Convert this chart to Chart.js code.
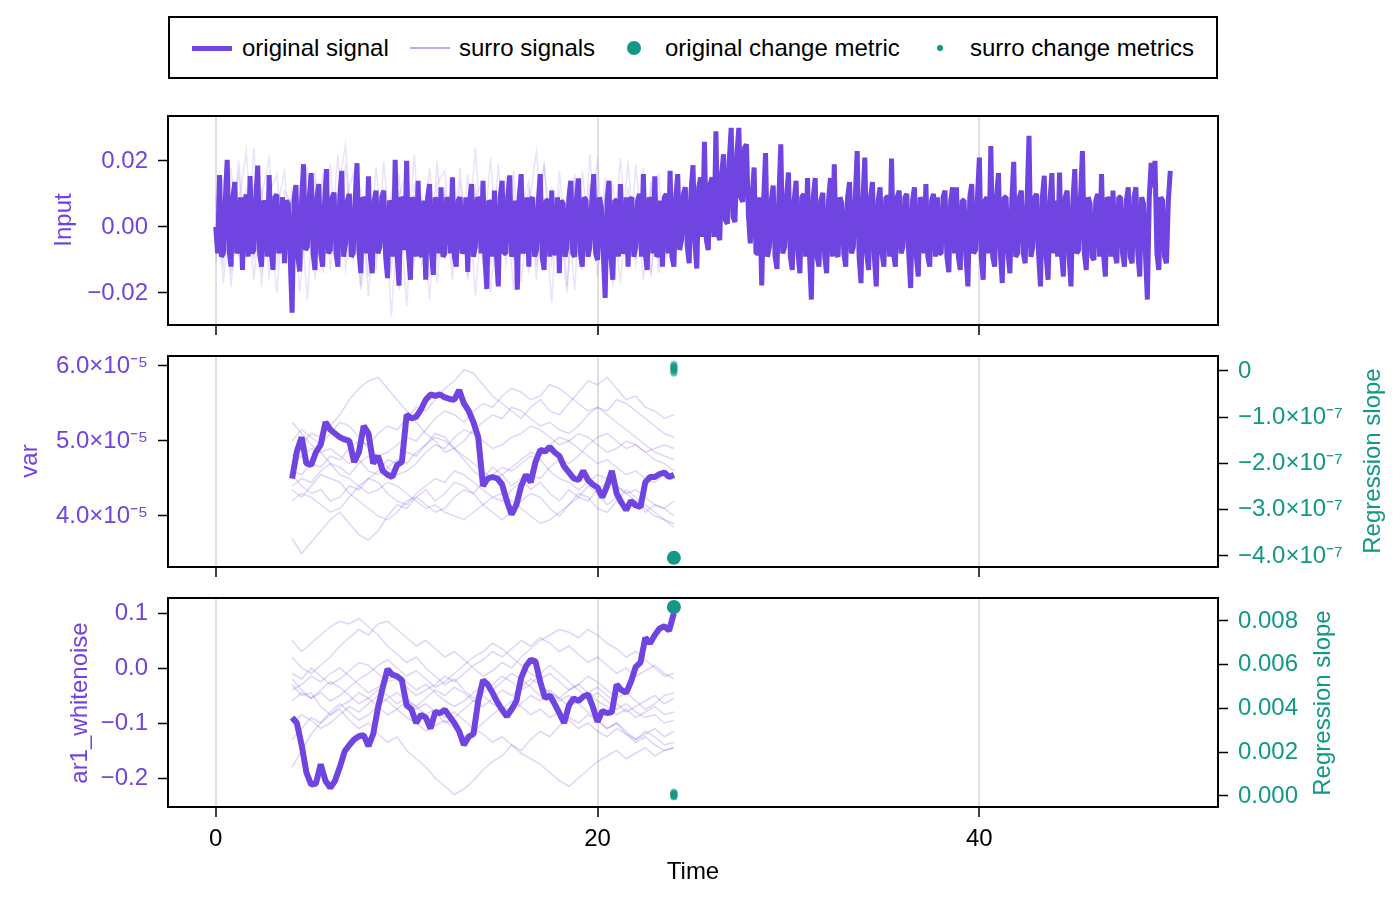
<!DOCTYPE html>
<html>
<head>
<meta charset="utf-8">
<script src="https://cdn.jsdelivr.net/npm/chart.js@4.4.1/dist/chart.umd.min.js"></script>
<style>
  body { margin: 0; background: #fff; width: 1400px; height: 900px; position: relative; overflow: hidden;
         font-family: "Liberation Sans", Arial, sans-serif; }
  canvas { position: absolute; left: 0; }
  #legend { position: absolute; left: 168px; top: 16px; width: 1050px; height: 63px;
            border: 2px solid #000; box-sizing: border-box; }
  #legend span { position: absolute; display: block; }
  #legend .txt { top: 12px; line-height: 36px; font-size: 24px; color: #000; white-space: nowrap; }
</style>
</head>
<body>
<div id="legend">
  <span style="left:22px; top:27.5px; width:40px; height:5px; background:rgb(111,68,224)"></span>
  <span class="txt" style="left:72px">original signal</span>
  <span style="left:240px; top:29px; width:40px; height:2px; background:rgba(111,68,224,0.45)"></span>
  <span class="txt" style="left:289px">surro signals</span>
  <span style="left:457px; top:23px; width:14px; height:14px; border-radius:50%; background:rgb(18,152,132)"></span>
  <span class="txt" style="left:495px">original change metric</span>
  <span style="left:767px; top:27px; width:6px; height:6px; border-radius:50%; background:rgb(18,152,132)"></span>
  <span class="txt" style="left:800px">surro change metrics</span>
</div>
<canvas id="inputChart" width="1400" height="240" style="top:100px"></canvas>
<canvas id="varChart" width="1400" height="242" style="top:340px"></canvas>
<canvas id="ar1Chart" width="1400" height="318" style="top:582px"></canvas>
<script>
// sampling grids
const inputStart = 0, inputStep = 0.1;
const surroInputStep = 0.4;
const windowStart = 4, windowStep = 0.25;
const surroWindowStep = 0.5;
const metricTime = 24;

const timeTicks = [0, 20, 40];

// original input signal, t = 0 .. 50 (one row = 2 time units)
const inputSignal = [
  0.000, -0.008, 0.0157, -0.009, -0.008, 0.008, 0.0203, -0.007, -0.012, 0.009, 0.0136, -0.008, -0.006, 0.009, -0.013, 0.007, 0.0098, -0.009, 0.0154, -0.008,
  -0.007, 0.009, 0.0186, -0.008, -0.012, 0.008, 0.006, -0.009, 0.0157, -0.007, -0.013, 0.009, 0.0098, -0.008, -0.005, 0.009, -0.011, 0.008, 0.007, -0.009,
  -0.026, 0.008, 0.0127, -0.009, -0.0135, 0.008, 0.019, -0.007, -0.006, 0.009, 0.0163, -0.008, -0.013, 0.009, 0.013, -0.008, -0.012, 0.007, 0.0175, -0.008,
  -0.007, 0.009, 0.0104, -0.008, -0.012, 0.009, 0.017, -0.009, -0.005, 0.008, 0.010, -0.009, -0.008, 0.008, 0.0193, -0.007, -0.014, 0.009, 0.008, -0.008,
  0.0153, -0.009, -0.014, 0.008, 0.011, -0.008, -0.006, 0.009, 0.011, -0.009, -0.0155, 0.008, 0.006, -0.009, 0.0203, -0.008, -0.0178, 0.009, 0.008, -0.007,
  0.020, -0.008, -0.016, 0.009, 0.007, -0.009, 0.014, -0.008, -0.009, 0.008, -0.016, 0.009, 0.013, -0.008, -0.0145, 0.009, 0.006, -0.008, 0.012, -0.009,
  -0.008, 0.009, 0.007, -0.008, 0.015, -0.009, -0.012, 0.008, 0.009, -0.008, -0.007, 0.009, -0.0136, 0.008, 0.013, -0.009, -0.006, 0.009, 0.008, -0.008,
  0.014, -0.009, -0.0188, 0.008, 0.007, -0.009, 0.011, -0.008, -0.018, 0.009, 0.014, -0.008, -0.008, 0.009, 0.0156, -0.009, -0.007, 0.008, -0.019, 0.009,
  0.016, -0.008, -0.006, 0.009, -0.012, 0.008, 0.009, -0.009, -0.007, 0.008, 0.016, -0.009, -0.013, 0.008, 0.008, -0.009, 0.011, -0.008, -0.008, 0.009,
  -0.014, 0.008, 0.007, -0.009, -0.006, 0.009, 0.014, -0.008, -0.009, 0.009, 0.0147, -0.008, -0.012, 0.009, 0.008, -0.009, -0.006, 0.008, 0.016, -0.008,
  -0.010, 0.009, 0.006, -0.008, -0.0215, 0.008, 0.014, -0.009, -0.016, 0.008, 0.008, -0.009, 0.013, -0.008, -0.007, 0.009, -0.012, 0.008, 0.009, -0.009,
  -0.006, 0.008, 0.010, -0.009, 0.016, -0.008, -0.013, 0.009, 0.007, -0.008, 0.0153, -0.009, -0.008, 0.008, -0.012, 0.009, 0.010, -0.008, 0.017, -0.009,
  -0.012, 0.009, 0.016, -0.007, -0.004, 0.010, 0.012, -0.006, -0.011, 0.011, 0.0187, -0.005, -0.0126, 0.012, 0.015, -0.003, 0.0258, -0.004, -0.007, 0.013,
  0.015, -0.003, 0.029, -0.002, -0.004, 0.016, 0.022, 0.002, 0.001, 0.020, 0.030, 0.003, 0.0015, 0.022, 0.030, 0.009, 0.0076, 0.024, 0.025, 0.004,
  -0.005, 0.009, 0.018, -0.008, -0.008, 0.009, -0.0177, 0.008, 0.0224, -0.009, -0.006, 0.008, 0.0125, -0.009, -0.0127, 0.009, 0.025, -0.008, -0.006, 0.009,
  0.0165, -0.009, -0.013, 0.008, 0.014, -0.008, -0.014, 0.009, 0.010, -0.009, 0.0148, -0.008, -0.022, 0.009, 0.0148, -0.009, -0.012, 0.008, 0.0103, -0.009,
  -0.014, 0.008, 0.0148, -0.009, 0.019, -0.008, -0.009, 0.009, 0.007, -0.008, -0.012, 0.009, 0.0136, -0.008, -0.006, 0.009, 0.023, -0.009, -0.017, 0.008,
  0.021, -0.008, -0.013, 0.009, 0.0136, -0.009, -0.018, 0.008, 0.012, -0.008, -0.012, 0.009, 0.009, -0.009, 0.0207, -0.008, -0.012, 0.009, 0.011, -0.008,
  -0.006, 0.009, 0.010, -0.008, -0.0185, 0.008, 0.012, -0.009, -0.015, 0.009, 0.007, -0.008, 0.013, -0.009, -0.012, 0.008, 0.010, -0.009, 0.009, -0.008,
  -0.008, 0.009, 0.011, -0.009, -0.0137, 0.008, 0.012, -0.008, 0.012, -0.009, -0.013, 0.008, 0.008, -0.009, -0.018, 0.009, 0.013, -0.008, -0.007, 0.009,
  0.021, -0.009, -0.016, 0.008, 0.009, -0.008, 0.0245, -0.009, -0.012, 0.009, 0.0163, -0.008, -0.017, 0.009, 0.009, -0.008, -0.014, 0.008, 0.0197, -0.009,
  -0.008, 0.009, 0.011, -0.008, -0.011, 0.008, 0.0276, -0.009, -0.006, 0.009, 0.010, -0.008, -0.018, 0.009, 0.0155, -0.009, -0.016, 0.008, 0.0163, -0.008,
  0.008, -0.009, 0.0165, -0.008, -0.015, 0.009, 0.011, -0.009, -0.018, 0.008, 0.0175, -0.008, -0.007, 0.009, 0.023, -0.008, -0.013, 0.009, 0.007, -0.009,
  -0.010, 0.008, 0.010, -0.009, 0.016, -0.008, -0.015, 0.009, 0.008, -0.009, 0.011, -0.008, -0.011, 0.009, 0.009, -0.008, -0.012, 0.008, 0.012, -0.009,
  -0.011, 0.009, 0.012, -0.008, -0.015, 0.009, 0.007, -0.008, -0.022, 0.009, 0.0194, 0.012, 0.020, -0.008, -0.013, 0.009, 0.008, -0.009, -0.011, 0.008,
  0.017
];

// surrogate input signals, t = 0 .. 24
const surroInput = [
  [0.004, -0.012, 0.018, -0.008, 0.011, -0.016, 0.009, 0.021, -0.011, 0.006,
   -0.019, 0.013, -0.005, 0.017, -0.014, 0.008, -0.010, 0.019, -0.007, 0.012,
   -0.021, 0.010, 0.004, -0.013, 0.016, -0.009, 0.022, -0.012, 0.007, -0.017,
   0.011, -0.006, 0.018, -0.015, 0.009, 0.014, -0.020, 0.006, -0.011, 0.017,
   -0.008, 0.012, -0.016, 0.019, -0.004, 0.010, -0.018, 0.015, -0.009, 0.007,
   0.020, -0.013, 0.005, -0.017, 0.012, -0.008, 0.018, -0.014, 0.009, -0.006, 0.011],
  [-0.006, 0.015, -0.018, 0.007, 0.023, -0.010, 0.012, -0.015, 0.005, 0.017,
   -0.012, 0.009, -0.022, 0.014, -0.006, 0.019, -0.011, 0.008, 0.016, -0.019,
   0.006, -0.013, 0.020, -0.008, 0.011, -0.024, 0.013, -0.005, 0.018, -0.010,
   0.009, -0.016, 0.014, -0.007, 0.024, -0.012, 0.006, -0.018, 0.015, -0.009,
   0.012, -0.014, 0.007, 0.019, -0.011, 0.005, -0.020, 0.016, -0.008, 0.013,
   -0.015, 0.010, -0.006, 0.021, -0.012, 0.008, -0.016, 0.014, -0.010, 0.006, -0.004],
  [0.009, -0.017, 0.006, 0.016, -0.009, 0.024, -0.014, 0.005, -0.020, 0.011,
   0.007, -0.011, 0.018, -0.016, 0.010, -0.006, 0.022, -0.013, 0.004, -0.018,
   0.014, -0.008, 0.012, -0.027, 0.009, 0.017, -0.011, 0.006, -0.015, 0.020,
   -0.010, 0.013, -0.006, 0.016, -0.021, 0.008, -0.012, 0.019, -0.007, 0.011,
   -0.017, 0.006, 0.023, -0.009, 0.012, -0.014, 0.008, -0.019, 0.017, -0.005,
   0.010, -0.016, 0.013, -0.007, 0.020, -0.011, 0.005, -0.015, 0.016, -0.009, 0.007],
  [-0.011, 0.008, -0.014, 0.020, -0.006, 0.013, -0.018, 0.010, 0.016, -0.008,
   0.012, -0.020, 0.007, -0.009, 0.016, -0.013, 0.011, 0.025, -0.010, 0.006,
   -0.015, 0.018, -0.007, 0.010, -0.019, 0.014, -0.005, 0.009, -0.022, 0.013,
   0.017, -0.011, 0.008, -0.016, 0.012, -0.006, 0.021, -0.014, 0.010, -0.019,
   0.006, 0.014, -0.012, 0.009, -0.023, 0.017, -0.008, 0.011, -0.013, 0.022,
   -0.009, 0.015, -0.018, 0.007, -0.011, 0.019, -0.006, 0.012, -0.014, 0.008, -0.010]
];

// rolling variance (units of 1e-5), t = 4 .. 24
const varSignal = [
  4.50, 4.86, 5.05, 4.70, 4.68, 4.85, 4.95, 5.25, 5.15, 5.10,
  5.05, 5.02, 5.00, 4.72, 4.85, 5.20, 5.10, 4.70, 4.80, 4.60,
  4.55, 4.52, 4.68, 4.72, 5.35, 5.30, 5.32, 5.42, 5.55, 5.62,
  5.60, 5.62, 5.58, 5.56, 5.55, 5.68, 5.50, 5.40, 5.25, 5.05,
  4.40, 4.50, 4.52, 4.50, 4.42, 4.20, 4.02, 4.15, 4.40, 4.55,
  4.45, 4.72, 4.88, 4.86, 4.92, 4.85, 4.80, 4.66, 4.58, 4.50,
  4.48, 4.60, 4.48, 4.42, 4.38, 4.25, 4.40, 4.60, 4.30, 4.18,
  4.08, 4.20, 4.14, 4.12, 4.45, 4.52, 4.52, 4.56, 4.58, 4.52,
  4.55
];

const surroVar = [
  [3.70, 3.50, 3.65, 3.80, 3.95, 4.05, 3.90, 3.75, 3.68, 3.80, 4.00, 4.15, 4.10, 4.25, 4.35, 4.20, 4.30, 4.45, 4.40, 4.30,
   4.15, 4.05, 3.95, 4.05, 4.20, 4.30, 4.25, 4.10, 4.00, 4.15, 4.30, 4.25, 4.10, 4.05, 4.20, 4.35, 4.25, 4.10, 4.00, 3.95, 3.90],
  [4.80, 4.95, 5.10, 5.05, 5.20, 5.35, 5.55, 5.70, 5.80, 5.85, 5.70, 5.55, 5.40, 5.25, 5.10, 5.00, 4.85, 4.90, 4.75, 4.60,
   4.50, 4.65, 4.55, 4.40, 4.50, 4.35, 4.45, 4.30, 4.20, 4.35, 4.25, 4.40, 4.30, 4.15, 4.25, 4.10, 4.20, 4.05, 4.15, 4.10, 4.00],
  [4.60, 4.55, 4.70, 4.65, 4.80, 4.75, 4.90, 5.00, 4.95, 5.10, 5.20, 5.15, 5.30, 5.45, 5.40, 5.55, 5.70, 5.80, 5.95, 5.90,
   5.75, 5.60, 5.50, 5.40, 5.30, 5.45, 5.55, 5.40, 5.35, 5.50, 5.65, 5.80, 5.75, 5.85, 5.70, 5.55, 5.60, 5.45, 5.40, 5.30, 5.35],
  [4.40, 4.50, 4.45, 4.60, 4.70, 4.65, 4.55, 4.70, 4.80, 4.75, 4.65, 4.55, 4.60, 4.70, 4.85, 4.95, 4.90, 5.05, 5.15, 5.10,
   5.00, 4.90, 4.95, 5.05, 5.10, 5.20, 5.15, 5.05, 4.95, 5.00, 5.10, 5.05, 4.95, 4.85, 4.90, 5.00, 4.95, 4.85, 4.90, 4.95, 4.90],
  [4.55, 4.40, 4.30, 4.35, 4.20, 4.25, 4.40, 4.35, 4.50, 4.45, 4.30, 4.20, 4.15, 4.30, 4.40, 4.50, 4.45, 4.60, 4.55, 4.45,
   4.35, 4.25, 4.30, 4.20, 4.10, 4.00, 3.90, 3.95, 4.05, 4.15, 4.25, 4.20, 4.35, 4.45, 4.40, 4.30, 4.20, 4.15, 4.05, 3.95, 3.85],
  [5.25, 5.10, 4.95, 4.85, 4.90, 4.80, 4.70, 4.75, 4.60, 4.55, 4.65, 4.75, 4.70, 4.85, 4.95, 5.05, 5.00, 4.90, 5.00, 5.15,
   5.25, 5.35, 5.30, 5.45, 5.40, 5.30, 5.20, 5.25, 5.15, 5.10, 5.20, 5.35, 5.45, 5.40, 5.55, 5.50, 5.40, 5.30, 5.20, 5.10, 5.05],
  [4.20, 4.30, 4.25, 4.15, 4.05, 4.10, 4.25, 4.40, 4.50, 4.60, 4.75, 4.70, 4.85, 4.80, 4.95, 5.10, 5.05, 4.90, 4.80, 4.70,
   4.60, 4.50, 4.55, 4.65, 4.75, 4.85, 4.80, 4.95, 5.05, 5.00, 4.90, 4.80, 4.70, 4.75, 4.65, 4.55, 4.60, 4.50, 4.45, 4.55, 4.50],
  [4.70, 4.80, 4.90, 4.85, 4.70, 4.55, 4.50, 4.40, 4.30, 4.35, 4.45, 4.40, 4.30, 4.20, 4.10, 4.15, 4.05, 4.00, 3.95, 4.05,
   4.15, 4.25, 4.20, 4.35, 4.45, 4.55, 4.50, 4.65, 4.75, 4.70, 4.80, 4.95, 5.05, 5.10, 5.00, 4.90, 4.95, 4.85, 4.75, 4.70, 4.60],
  [5.00, 5.15, 5.05, 4.95, 5.10, 5.25, 5.20, 5.05, 4.90, 4.80, 4.85, 4.95, 5.05, 5.00, 5.15, 5.30, 5.40, 5.35, 5.25, 5.40,
   5.50, 5.45, 5.60, 5.70, 5.65, 5.55, 5.60, 5.75, 5.70, 5.60, 5.50, 5.40, 5.45, 5.35, 5.25, 5.15, 5.05, 4.95, 4.85, 4.80, 4.75],
  [4.35, 4.25, 4.40, 4.55, 4.50, 4.45, 4.30, 4.20, 4.10, 4.00, 3.95, 4.05, 4.20, 4.25, 4.15, 4.05, 4.10, 4.25, 4.35, 4.30,
   4.45, 4.55, 4.65, 4.60, 4.70, 4.80, 4.75, 4.60, 4.50, 4.45, 4.35, 4.45, 4.55, 4.50, 4.40, 4.30, 4.35, 4.25, 4.15, 4.10, 4.20]
];

// regression slope of var (units of 1e-7)
const varMetric = [-4.04];
const surroVarMetric = [0.02, 0.08, -0.03, 0.12, 0.05, 0.00, 0.10, 0.15, -0.05, 0.06, 0.03, 0.09];

// rolling ar1, t = 4 .. 24
const ar1Signal = [
  -0.090, -0.100, -0.140, -0.190, -0.212, -0.210, -0.175, -0.205, -0.218, -0.205,
  -0.180, -0.152, -0.140, -0.130, -0.124, -0.122, -0.142, -0.120, -0.072, -0.035,
  -0.002, -0.012, -0.015, -0.022, -0.068, -0.075, -0.100, -0.085, -0.090, -0.110,
  -0.080, -0.082, -0.076, -0.088, -0.100, -0.115, -0.140, -0.125, -0.120, -0.060,
  -0.022, -0.030, -0.045, -0.062, -0.076, -0.088, -0.075, -0.060, -0.018, 0.003,
  0.015, 0.012, -0.025, -0.055, -0.050, -0.065, -0.082, -0.100, -0.068, -0.055,
  -0.060, -0.052, -0.048, -0.070, -0.098, -0.078, -0.082, -0.080, -0.030, -0.040,
  -0.045, -0.025, 0.002, 0.010, 0.055, 0.045, 0.060, 0.072, 0.076, 0.068,
  0.100
];

const surroAr1 = [
  [0.050, 0.030, 0.045, 0.060, 0.075, 0.085, 0.080, 0.090, 0.075, 0.060, 0.040, 0.025, 0.010, 0.020, 0.000, -0.015, -0.030, -0.020, -0.040, -0.055,
   -0.045, -0.030, -0.015, -0.025, -0.040, -0.030, -0.010, 0.005, -0.010, -0.025, -0.040, -0.055, -0.045, -0.060, -0.075, -0.065, -0.080, -0.090, -0.085, -0.100, -0.095],
  [-0.030, -0.050, -0.045, -0.070, -0.085, -0.075, -0.095, -0.110, -0.100, -0.120, -0.135, -0.125, -0.150, -0.165, -0.180, -0.200, -0.215, -0.230, -0.220, -0.205,
   -0.185, -0.170, -0.160, -0.140, -0.150, -0.130, -0.115, -0.125, -0.105, -0.090, -0.100, -0.085, -0.095, -0.110, -0.100, -0.120, -0.130, -0.115, -0.125, -0.140, -0.135],
  [-0.180, -0.150, -0.120, -0.100, -0.085, -0.070, -0.060, -0.045, -0.055, -0.040, -0.050, -0.065, -0.055, -0.070, -0.085, -0.075, -0.090, -0.080, -0.095, -0.110,
   -0.120, -0.135, -0.125, -0.140, -0.155, -0.165, -0.175, -0.190, -0.205, -0.215, -0.200, -0.185, -0.170, -0.160, -0.150, -0.165, -0.155, -0.145, -0.160, -0.150, -0.145],
  [-0.010, -0.020, 0.000, -0.015, -0.030, -0.020, -0.005, 0.010, 0.005, -0.010, -0.025, -0.020, -0.035, -0.050, -0.040, -0.030, -0.015, -0.025, -0.010, 0.005,
   0.015, 0.030, 0.020, 0.035, 0.050, 0.040, 0.055, 0.045, 0.030, 0.040, 0.025, 0.010, 0.020, 0.005, -0.010, 0.000, -0.015, -0.005, 0.005, -0.010, -0.020],
  [-0.060, -0.045, -0.055, -0.040, -0.025, -0.035, -0.050, -0.065, -0.055, -0.070, -0.085, -0.075, -0.060, -0.070, -0.055, -0.040, -0.050, -0.035, -0.045, -0.060,
   -0.050, -0.065, -0.075, -0.060, -0.070, -0.085, -0.075, -0.090, -0.080, -0.095, -0.110, -0.100, -0.115, -0.125, -0.110, -0.120, -0.135, -0.125, -0.140, -0.150, -0.145],
  [0.020, 0.000, -0.010, 0.005, 0.020, 0.040, 0.055, 0.070, 0.060, 0.080, 0.085, 0.070, 0.055, 0.040, 0.050, 0.035, 0.020, 0.030, 0.015, 0.000,
   -0.015, -0.005, 0.010, 0.000, 0.020, 0.035, 0.050, 0.060, 0.070, 0.065, 0.055, 0.070, 0.060, 0.045, 0.035, 0.020, 0.030, 0.015, 0.000, -0.015, -0.010],
  [-0.100, -0.085, -0.095, -0.110, -0.100, -0.085, -0.070, -0.080, -0.065, -0.050, -0.060, -0.075, -0.090, -0.100, -0.115, -0.105, -0.095, -0.110, -0.125, -0.115,
   -0.100, -0.085, -0.070, -0.080, -0.065, -0.050, -0.060, -0.045, -0.055, -0.040, -0.030, -0.045, -0.060, -0.070, -0.085, -0.075, -0.090, -0.080, -0.070, -0.085, -0.080],
  [-0.040, -0.030, -0.015, -0.025, -0.010, 0.000, -0.015, -0.030, -0.045, -0.035, -0.020, -0.010, -0.025, -0.040, -0.030, -0.045, -0.060, -0.070, -0.060, -0.045,
   -0.030, -0.040, -0.025, -0.010, -0.020, -0.035, -0.050, -0.040, -0.055, -0.070, -0.060, -0.045, -0.035, -0.050, -0.065, -0.080, -0.070, -0.060, -0.050, -0.065, -0.055],
  [-0.130, -0.110, -0.090, -0.100, -0.080, -0.065, -0.080, -0.095, -0.085, -0.070, -0.055, -0.045, -0.060, -0.075, -0.065, -0.080, -0.100, -0.090, -0.075, -0.060,
   -0.070, -0.055, -0.040, -0.050, -0.035, -0.020, -0.030, -0.045, -0.060, -0.050, -0.065, -0.080, -0.095, -0.110, -0.100, -0.115, -0.130, -0.120, -0.110, -0.125, -0.115],
  [-0.020, -0.040, -0.055, -0.045, -0.060, -0.050, -0.035, -0.020, -0.010, 0.005, 0.015, 0.000, -0.015, -0.005, -0.020, -0.035, -0.025, -0.010, 0.005, 0.020,
   0.030, 0.045, 0.035, 0.020, 0.005, -0.010, -0.020, -0.010, -0.025, -0.040, -0.030, -0.015, -0.025, -0.040, -0.055, -0.045, -0.060, -0.075, -0.065, -0.050, -0.045]
];

const ar1Metric = [0.00864];
const surroAr1Metric = [0.00003, 0.00012, -0.00005, 0.00008, 0.00002, 0.00015, -0.00002, 0.0001, 0.00005, 0.0, 0.00018, 0.00007];

const family = '"Liberation Sans", Arial, sans-serif';
Chart.defaults.font.family = family;
Chart.defaults.font.size = 24;

const purple = 'rgb(111, 68, 224)';
const purpleFaint = 'rgba(111, 68, 224, 0.15)';
const purpleCloud = 'rgba(111, 68, 224, 0.22)';
const teal = 'rgb(18, 152, 132)';
const tealFaint = 'rgba(18, 152, 132, 0.45)';
const minus = '\u2212';

const toPoints = (values, start, step) => values.map((v, i) => ({ x: start + i * step, y: v }));
const atMetric = (values) => values.map((v) => ({ x: metricTime, y: v }));
const fixedTicks = (values) => (scale) => { scale.ticks = values.map((v) => ({ value: v })); };
const signed = (v, digits) => (v < 0 ? minus : '') + Math.abs(v).toFixed(digits);
const zeroPad = (s) => { s.paddingTop = 0; s.paddingBottom = 0; s.paddingLeft = 0; s.paddingRight = 0; };

const framePlugin = {
  id: 'frame',
  afterDraw(chart) {
    const { ctx, chartArea: a } = chart;
    ctx.save();
    ctx.strokeStyle = '#000';
    ctx.lineWidth = 2;
    ctx.strokeRect(a.left, a.top, a.right - a.left, a.bottom - a.top);
    ctx.restore();
  },
};

function titlePlugin(items) {
  return {
    id: 'axisTitles',
    afterDraw(chart) {
      const ctx = chart.ctx;
      items.forEach((t) => {
        ctx.save();
        ctx.translate(t.x, t.y);
        if (t.vertical) ctx.rotate(-Math.PI / 2);
        ctx.font = `24px ${family}`;
        ctx.fillStyle = t.color;
        ctx.textAlign = 'center';
        ctx.textBaseline = 'middle';
        ctx.fillText(t.text, 0, 0);
        ctx.restore();
      });
    },
  };
}

function xScale(showLabels, height) {
  return {
    type: 'linear', min: -2.5, max: 52.5,
    afterBuildTicks: fixedTicks(timeTicks),
    afterFit: (s) => { s.height = height; zeroPad(s); },
    grid: { color: 'rgba(0,0,0,0.12)', lineWidth: 2, tickColor: '#000', tickWidth: 1.5, tickLength: 10 },
    border: { display: false },
    ticks: { display: showLabels, color: '#000', padding: 8, maxRotation: 0 },
  };
}

function yScale(position, min, max, ticks, color, fmt, width) {
  return {
    type: 'linear', position, min, max,
    afterBuildTicks: fixedTicks(ticks),
    afterFit: (s) => { s.width = width; zeroPad(s); },
    grid: { drawOnChartArea: false, tickColor: '#000', tickWidth: 1.5, tickLength: 10 },
    border: { display: false },
    ticks: { color, padding: 10, callback: fmt },
  };
}

const mainLine = (points, width) => ({
  data: points, borderColor: purple, borderWidth: width, pointRadius: 0,
  borderJoinStyle: 'bevel', yAxisID: 'y',
});
const surroLine = (points, color) => ({
  data: points, borderColor: color, borderWidth: 1.5, pointRadius: 0, yAxisID: 'y',
});
const dots = (points, radius, color) => ({
  data: points, showLine: false, pointRadius: radius, pointBackgroundColor: color,
  pointBorderWidth: 0, yAxisID: 'y2', clip: false,
});

const baseOptions = (padRight, scales) => ({
  responsive: false, animation: false, events: [],
  layout: { padding: { top: 16, right: padRight, left: 0, bottom: 0 } },
  plugins: { legend: { display: false }, tooltip: { enabled: false } },
  scales,
});

// panel 1: input
new Chart(document.getElementById('inputChart'), {
  type: 'line',
  data: {
    datasets: [
      mainLine(toPoints(inputSignal, inputStart, inputStep), 5),
      ...surroInput.map((s) => surroLine(toPoints(s, inputStart, surroInputStep), purpleFaint)),
    ],
  },
  options: baseOptions(182, {
    x: xScale(false, 15),
    y: yScale('left', -0.0297, 0.0336, [-0.02, 0, 0.02], purple, (v) => signed(v, 2), 168),
  }),
  plugins: [framePlugin, titlePlugin([{ text: 'Input', x: 64, y: 120, color: purple, vertical: true }])],
});

// panel 2: var
new Chart(document.getElementById('varChart'), {
  type: 'line',
  data: {
    datasets: [
      dots(atMetric(varMetric), 7, teal),
      dots(atMetric(surroVarMetric), 3.5, tealFaint),
      mainLine(toPoints(varSignal, windowStart, windowStep), 6),
      ...surroVar.map((s) => surroLine(toPoints(s, windowStart, surroWindowStep), purpleCloud)),
    ],
  },
  options: baseOptions(0, {
    x: xScale(false, 15),
    y: yScale('left', 3.32, 6.133, [4, 5, 6], purple, (v) => v.toFixed(1) + '\u00d710\u207b\u2075', 168),
    y2: yScale('right', -4.238, 0.324, [-4, -3, -2, -1, 0], teal,
      (v) => (v === 0 ? '0' : signed(v, 1) + '\u00d710\u207b\u2077'), 182),
  }),
  plugins: [framePlugin, titlePlugin([
    { text: 'var', x: 30, y: 121, color: purple, vertical: true },
    { text: 'Regression slope', x: 1373, y: 121, color: teal, vertical: true },
  ])],
});

// panel 3: ar1
new Chart(document.getElementById('ar1Chart'), {
  type: 'line',
  data: {
    datasets: [
      dots(atMetric(ar1Metric), 7, teal),
      dots(atMetric(surroAr1Metric), 3.5, tealFaint),
      mainLine(toPoints(ar1Signal, windowStart, windowStep), 6),
      ...surroAr1.map((s) => surroLine(toPoints(s, windowStart, surroWindowStep), purpleCloud)),
    ],
  },
  options: baseOptions(0, {
    x: xScale(true, 93),
    y: yScale('left', -0.2527, 0.1273, [-0.2, -0.1, 0, 0.1], purple, (v) => signed(v, 1), 168),
    y2: yScale('right', -0.000503, 0.009051, [0, 0.002, 0.004, 0.006, 0.008], teal, (v) => v.toFixed(3), 182),
  }),
  plugins: [framePlugin, titlePlugin([
    { text: 'ar1_whitenoise', x: 80, y: 121, color: purple, vertical: true },
    { text: 'Regression slope', x: 1323, y: 121, color: teal, vertical: true },
    { text: 'Time', x: 693, y: 290, color: '#000', vertical: false },
  ])],
});
</script>
</body>
</html>
